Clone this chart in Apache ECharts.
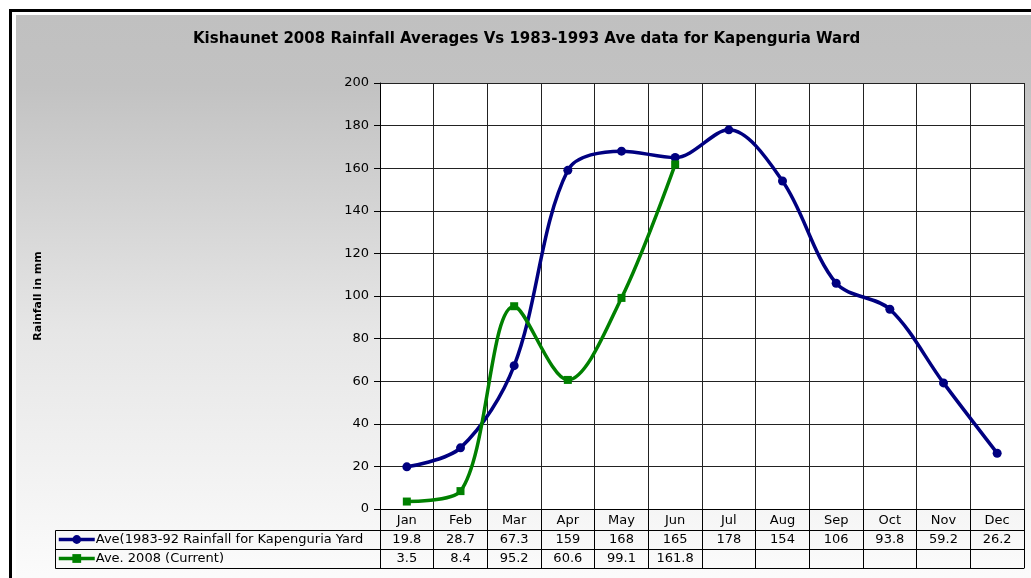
<!DOCTYPE html>
<html>
<head>
<meta charset="utf-8">
<script src="https://cdn.jsdelivr.net/npm/echarts@6/dist/echarts.min.js"></script>
<style>
html,body{margin:0;padding:0;background:#fff;}
#chart{width:1031px;height:578px;}
</style>
</head>
<body>
<div id="chart"></div>
<script>
var months = ['Jan','Feb','Mar','Apr','May','Jun','Jul','Aug','Sep','Oct','Nov','Dec'];
var aveLongTerm = [19.8, 28.7, 67.3, 159, 168, 165, 178, 154, 106, 93.8, 59.2, 26.2];
var ave2008 = [3.5, 8.4, 95.2, 60.6, 99.1, 161.8, null, null, null, null, null, null];
var seriesNames = ['Ave(1983-92 Rainfall for Kapenguria Yard', 'Ave. 2008 (Current)'];
var titleText = 'Kishaunet 2008 Rainfall Averages Vs 1983-1993 Ave data for Kapenguria Ward';
var yName = 'Rainfall in mm';

var FONT = '"DejaVu Sans", sans-serif';
function fmt(v){ return (v === null || v === undefined) ? '' : String(v); }

var chart = echarts.init(document.getElementById('chart'));

function tableAxis(offset, values, showTicks){
  return {
    type: 'category',
    data: months,
    position: 'bottom',
    offset: offset,
    boundaryGap: true,
    gridIndex: 0,
    axisLine: {show: true, lineStyle: {color: '#000', width: 1}},
    axisTick: {show: showTicks, interval: 0, length: 19, lineStyle: {color: '#000', width: 1}},
    axisLabel: {
      show: !!values, interval: 0, margin: 3,
      fontFamily: FONT, fontSize: 13, color: '#000',
      formatter: function(v, i){ return values ? fmt(values[i]) : ''; }
    },
    splitLine: {show: false}
  };
}

var option = {
  backgroundColor: '#fff',
  animation: false,
  title: {
    text: titleText,
    left: 193,
    top: 32,
    padding: 0,
    textStyle: {fontFamily: FONT, fontSize: 15, fontWeight: 'bold', color: '#000'}
  },
  legend: {
    orient: 'vertical',
    left: 57,
    top: 532,
    padding: 0,
    itemWidth: 36,
    itemHeight: 11,
    itemGap: 4,
    lineStyle: {width: 3.5},
    textStyle: {fontFamily: FONT, fontSize: 13, color: '#000', padding: [0,0,0,-4], lineHeight: 15},
    data: seriesNames
  },
  graphic: [
    {type: 'rect', z: -100, silent: true,
      shape: {x: 16, y: 15, width: 1100, height: 700},
      style: {fill: new echarts.graphic.LinearGradient(0, 0, 0, 1, [
        {offset: 0, color: '#c0c0c0'},
        {offset: 0.1, color: '#c2c2c2'},
        {offset: 0.45, color: '#e6e6e6'},
        {offset: 0.8, color: '#fbfbfb'},
        {offset: 1, color: '#ffffff'}
      ])}},
    {type: 'rect', z: 100, silent: true,
      shape: {x: 10.5, y: 10.5, width: 1100, height: 700},
      style: {fill: 'none', stroke: '#000', lineWidth: 3}},
    {type: 'rect', z: 50, silent: true,
      shape: {x: 55.5, y: 530.5, width: 325, height: 38},
      style: {fill: 'none', stroke: '#000', lineWidth: 1}},
    {type: 'line', z: 50, silent: true,
      shape: {x1: 55.5, y1: 549.5, x2: 381, y2: 549.5},
      style: {stroke: '#000', lineWidth: 1}}
  ],
  grid: {
    left: 380, right: 7, top: 83, bottom: 69,
    show: true, backgroundColor: '#fff', borderWidth: 0
  },
  xAxis: [
    {
      type: 'category',
      data: months,
      position: 'bottom',
      boundaryGap: true,
      axisLine: {show: true, lineStyle: {color: '#000', width: 1}},
      axisTick: {show: true, interval: 0, length: 21, lineStyle: {color: '#000', width: 1}},
      axisLabel: {interval: 0, margin: 5, fontFamily: FONT, fontSize: 13, color: '#000'},
      splitLine: {show: true, interval: 0, lineStyle: {color: '#222', width: 1}}
    },
    tableAxis(21, aveLongTerm, true),
    tableAxis(40, ave2008, true),
    tableAxis(59, null, false)
  ],
  yAxis: {
    type: 'value',
    min: 0, max: 200, interval: 20,
    name: yName,
    nameLocation: 'middle',
    nameGap: 336,
    nameRotate: 90,
    nameTextStyle: {fontFamily: FONT, fontSize: 11, fontWeight: 'bold', color: '#000'},
    axisLine: {show: true, lineStyle: {color: '#000', width: 1}},
    axisTick: {show: true, length: 6, lineStyle: {color: '#000'}},
    axisLabel: {margin: 11, fontFamily: FONT, fontSize: 13, color: '#000'},
    splitLine: {show: true, lineStyle: {color: '#222', width: 1}}
  },
  series: [
    {
      name: seriesNames[0], type: 'line', data: aveLongTerm,
      smooth: 0.33,
      symbol: 'circle', symbolSize: 9,
      lineStyle: {color: '#000080', width: 3.5},
      itemStyle: {color: '#000080'}
    },
    {
      name: seriesNames[1], type: 'line', data: ave2008,
      smooth: 0.33,
      symbol: 'rect', symbolSize: 8,
      lineStyle: {color: '#008000', width: 3.5},
      itemStyle: {color: '#008000'}
    }
  ]
};
chart.setOption(option);
</script>
</body>
</html>
